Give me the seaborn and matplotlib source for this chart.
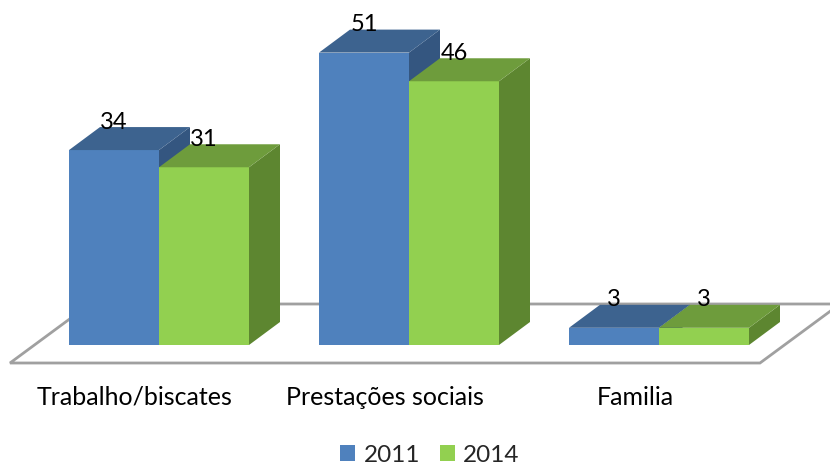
import pandas as pd
import seaborn as sns
import matplotlib.pyplot as plt
from matplotlib.colors import to_hex
from matplotlib.patches import Polygon, Patch

# dados
categorias = ["Trabalho/biscates", "Prestações sociais", "Familia"]
anos = ["2011", "2014"]
valores_2011 = [34, 51, 3]
valores_2014 = [31, 46, 3]

df = pd.DataFrame({
    "categoria": categorias * 2,
    "ano": [anos[0]] * 3 + [anos[1]] * 3,
    "valor": valores_2011 + valores_2014,
})

# cores (frente, topo, lado)
frente = {"2011": "#4f81bd", "2014": "#92d050"}
topo = {"2011": "#3d638f", "2014": "#6e9c3c"}
lado = {"2011": "#345680", "2014": "#5d8630"}

sns.set_theme(style="white")
plt.rcParams["font.family"] = ["Lato", "DejaVu Sans"]

W, H = 830, 465
fig = plt.figure(figsize=(W / 100, H / 100), dpi=100)
ax = fig.add_axes([34 / W, 120 / H, 750 / W, 344 / H])

sns.barplot(data=df, x="categoria", y="valor", hue="ano", order=categorias,
            hue_order=anos, palette=[frente[a] for a in anos], width=0.72,
            saturation=1, linewidth=0, legend=False, ax=ax)
ax.set_xlim(-0.5, 2.5)
ax.set_ylim(0, 60)

barras = sorted(ax.patches, key=lambda p: p.get_x())

# pixels -> unidades de dados
px_x = 750 / 3
px_y = 344 / 60
DX, DY = 31 / px_x, 23 / px_y

# chão em perspectiva
fx0, fx1 = -0.5, 2.5
chao = Polygon([(fx0 - 24 / px_x, -18 / px_y), (fx1 - 24 / px_x, -18 / px_y),
                (fx1 + 56 / px_x, 41 / px_y), (fx0 + 56 / px_x, 41 / px_y)],
               closed=True, facecolor="white", edgecolor="#a0a0a0",
               linewidth=2, clip_on=False, zorder=0)
ax.add_patch(chao)

for i, b in enumerate(barras):
    x0, w, h = b.get_x(), b.get_width(), b.get_height()
    ano = anos[0] if to_hex(b.get_facecolor()) == frente[anos[0]] else anos[1]
    z = 2 + 2 * i
    b.set_zorder(z + 1)
    b.set_clip_on(False)
    ax.add_patch(Polygon([(x0, h), (x0 + w, h), (x0 + w + DX, h + DY), (x0 + DX, h + DY)],
                         closed=True, facecolor=topo[ano], edgecolor="none",
                         zorder=z + 1, clip_on=False))
    ax.add_patch(Polygon([(x0 + w, 0), (x0 + w + DX, DY), (x0 + w + DX, h + DY), (x0 + w, h)],
                         closed=True, facecolor=lado[ano], edgecolor="none",
                         zorder=z, clip_on=False))
    ax.annotate(f"{h:g}", xy=(x0 + w / 2, h + DY), xytext=(0, 5),
                textcoords="offset pixels", ha="center", va="center",
                fontsize=17, color="black", zorder=50)

# rótulos das categorias na borda da frente do chão
for i, cat in enumerate(categorias):
    ax.text(i - 24 / px_x, -52 / px_y, cat, ha="center", va="center",
            fontsize=18, color="black", clip_on=False)

ax.set_xlabel("")
ax.set_ylabel("")
ax.set_xticks([])
ax.set_yticks([])
sns.despine(ax=ax, left=True, bottom=True)

handles = [Patch(facecolor=frente[a], edgecolor="none", label=a) for a in anos]
fig.legend(handles=handles, loc="center", bbox_to_anchor=(430 / W, 10 / H),
           ncol=2, frameon=False, fontsize=17.5, handlelength=0.62, handleheight=0.62,
           handletextpad=0.35, columnspacing=0.8)

fig.savefig("out.png", dpi=100)
